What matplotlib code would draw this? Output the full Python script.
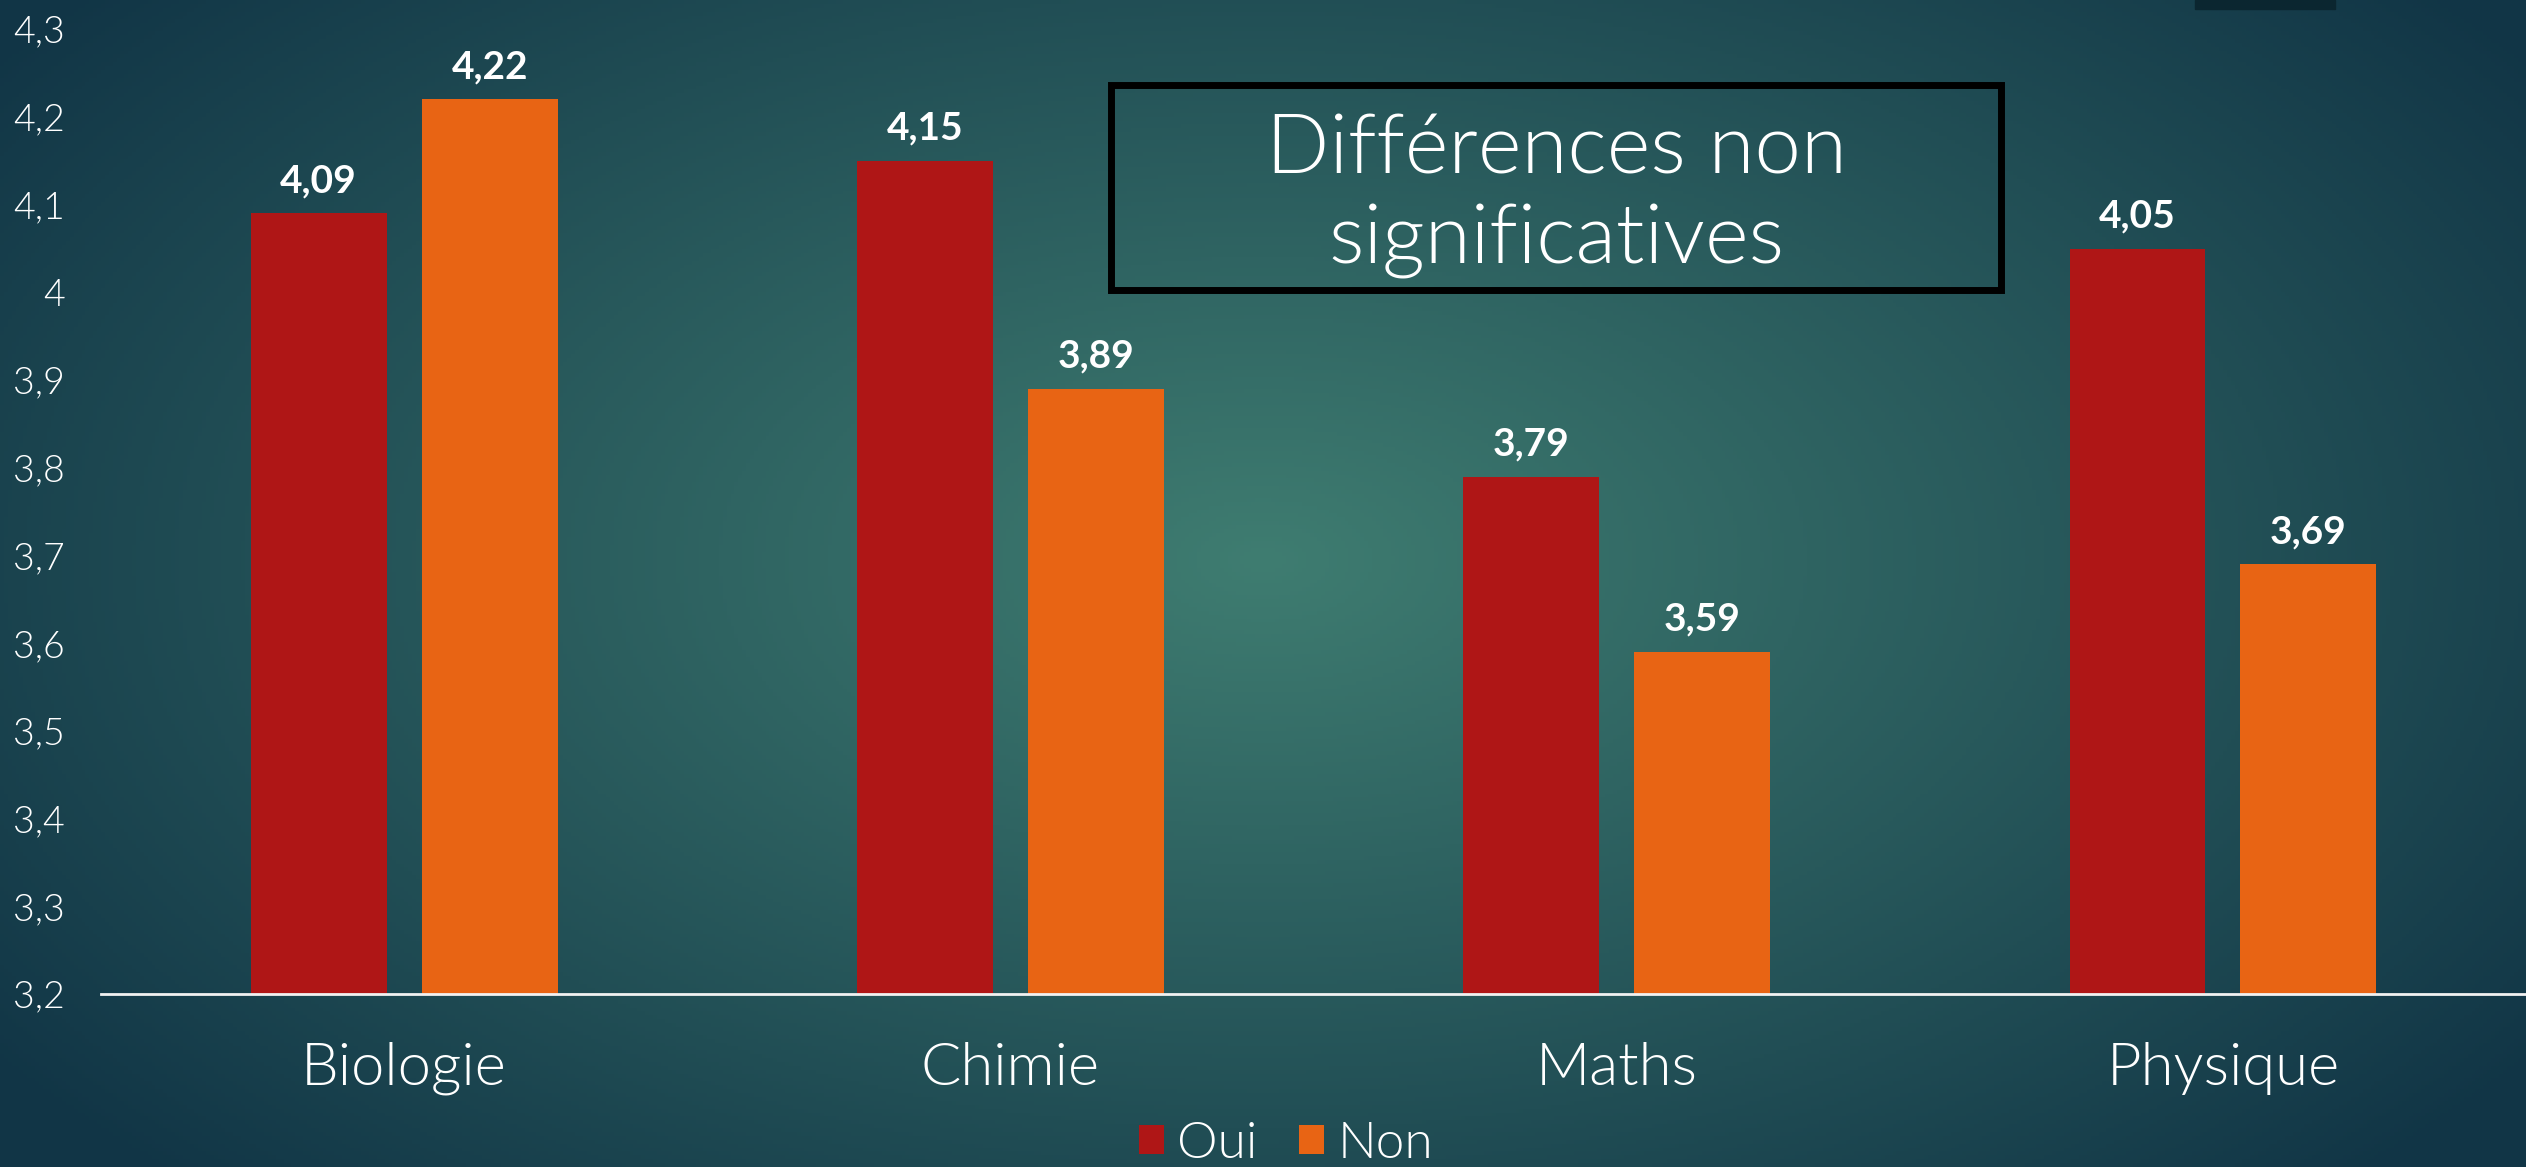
'''plot.py

   Mean scores Oui / Non per subject, grouped bar chart on a teal slide.
'''

import numpy as np
import matplotlib.pyplot as plt
from matplotlib.patches import Rectangle
from matplotlib.colors import to_rgb


#
#  Data
#
subjects = ['Biologie', 'Chimie', 'Maths', 'Physique']
oui = [4.09, 4.15, 3.79, 4.05]
non = [4.22, 3.89, 3.59, 3.69]
series_names = ['Oui', 'Non']
yticks = [3.2, 3.3, 3.4, 3.5, 3.6, 3.7, 3.8, 3.9, 4.0, 4.1, 4.2, 4.3]
note = 'Différences non\nsignificatives'


#
#  Style
#
plt.rcParams['font.family'] = ['Lato', 'DejaVu Sans']
red = '#AF1616'
orange = '#E86414'
light = '#3F7D71'
dark = '#113546'
thin = 300                      # Lato Light


def fr(v):
    # French decimal comma, drop trailing zeros
    s = ('%.2f' % v).rstrip('0').rstrip('.')
    return s.replace('.', ',')


fig = plt.figure(figsize=(25.26, 11.67), dpi=100)

# Background gradient (radial, lighter in the middle)
bg = fig.add_axes([0, 0, 1, 1], zorder=-10)
ny, nx = 300, 650
yy, xx = np.mgrid[0:1:ny*1j, 0:1:nx*1j]
r = np.sqrt(((xx - 0.50) / 0.62)**2 + ((yy - 0.48) / 0.75)**2)
r = np.clip(r, 0, 1)
c0 = np.array(to_rgb(light))
c1 = np.array(to_rgb(dark))
img = c0[None, None, :] * (1 - r[..., None]) + c1[None, None, :] * r[..., None]
bg.imshow(img, aspect='auto', extent=(0, 1, 0, 1), origin='upper')
bg.set_axis_off()

# small dark tab at the top edge
bg.add_patch(Rectangle((2195/2526, 1 - 9/1167), 140/2526, 9/1167,
                       color='#0B2630', transform=fig.transFigure))

#
#  Bars
#
ax = fig.add_axes([0.040, 0.148, 0.960, 0.827])
ax.patch.set_alpha(0)

x = np.arange(len(subjects))
w = 0.224
off = 0.141
b1 = ax.bar(x - off, oui, w, color=red, label=series_names[0])
b2 = ax.bar(x + off, non, w, color=orange, label=series_names[1])

for bars, vals in ((b1, oui), (b2, non)):
    for b, v in zip(bars, vals):
        ax.annotate(fr(v), (b.get_x() + b.get_width()/2, v),
                    xytext=(0, 11), textcoords='offset points',
                    ha='center', va='bottom', color='white',
                    fontsize=28, fontweight='bold')

ax.set_xlim(-0.5, 3.5)
ax.set_ylim(3.2, 4.3)
ax.set_yticks(yticks)
ax.set_yticklabels([fr(t) for t in yticks])
ax.set_xticks(x)
ax.set_xticklabels(subjects)

for s in ['top', 'right', 'left']:
    ax.spines[s].set_visible(False)
ax.spines['bottom'].set_color('#F2F2F2')
ax.spines['bottom'].set_linewidth(2)

ax.tick_params(axis='y', length=0, pad=26, labelsize=27, labelcolor='white')
ax.tick_params(axis='x', length=0, pad=34, labelsize=43, labelcolor='white')
for lab in ax.get_yticklabels() + ax.get_xticklabels():
    lab.set_fontweight(thin)

# Legend at the bottom
leg = fig.legend(loc='center', bbox_to_anchor=(0.509, 0.020), ncol=2,
                 frameon=False, fontsize=37, handlelength=0.5,
                 handleheight=0.5, handletextpad=0.25, columnspacing=0.8,
                 borderpad=0)
for t in leg.get_texts():
    t.set_color('white')
    t.set_fontweight(thin)

# Note box
fig.add_artist(Rectangle((0.440, 0.7515), 0.352, 0.1755, fill=False,
                         edgecolor='black', linewidth=5,
                         transform=fig.transFigure))
fig.text(0.616, 0.832, note, ha='center', va='center', color='white',
         fontsize=60, fontweight=thin, linespacing=1.25)

fig.savefig('out.png', dpi=100)
